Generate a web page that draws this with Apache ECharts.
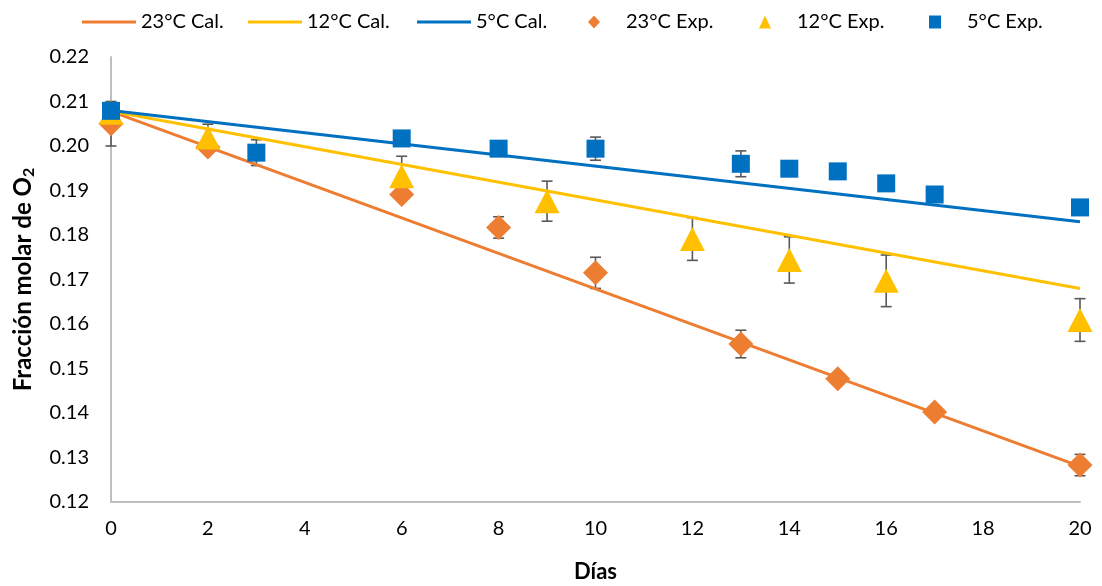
<!DOCTYPE html>
<html>
<head>
<meta charset="utf-8">
<script src="https://cdn.jsdelivr.net/npm/echarts@6/dist/echarts.min.js"></script>
<style>
  html, body { margin: 0; padding: 0; background: #fff; }
  #chart { width: 1102px; height: 586px; }
</style>
</head>
<body>
<div id="chart"></div>
<script>
// Days at which O2 was measured, per temperature
const days23 = [0, 2, 6, 8, 10, 13, 15, 17, 20];
const exp23  = [0.2050, 0.1998, 0.1891, 0.1817, 0.1715, 0.1555, 0.1477, 0.1402, 0.1283];
const err23  = [0.0050, 0, 0, 0.0024, 0.0035, 0.0031, 0, 0, 0.0024];

const days12 = [0, 2, 6, 9, 12, 14, 16, 20];
const exp12  = [0.2075, 0.2019, 0.1932, 0.1876, 0.1791, 0.1744, 0.1697, 0.1609];
const err12  = [0, 0.0030, 0.0045, 0.0045, 0.0048, 0.0052, 0.0058, 0.0048];

const days5  = [0, 3, 6, 8, 10, 13, 14, 15, 16, 17, 20];
const exp5   = [0.2079, 0.1985, 0.2017, 0.1994, 0.1994, 0.1960, 0.1949, 0.1943, 0.1916, 0.1891, 0.1862];
const err5   = [0, 0.0029, 0, 0, 0.0026, 0.0029, 0, 0, 0, 0, 0];

// Model curves (straight-line fits), start and end of the 20-day span
const calDays = [0, 20];
const cal23   = [0.2078, 0.1280];
const cal12   = [0.2078, 0.1680];
const cal5    = [0.2080, 0.1830];

const yTicks = [0.12, 0.13, 0.14, 0.15, 0.16, 0.17, 0.18, 0.19, 0.20, 0.21, 0.22];
const xTicks = [0, 2, 4, 6, 8, 10, 12, 14, 16, 18, 20];

const seriesNames = ['23°C Cal.', '12°C Cal.', '5°C Cal.', '23°C Exp.', '12°C Exp.', '5°C Exp.'];

const C23 = '#ED7D31', C12 = '#FFC000', C5 = '#0070C0';
const FONT = 'Lato, "Open Sans", sans-serif';

const pairs = (xs, ys) => xs.map((x, i) => [x, ys[i]]);
const errRows = (xs, ys, es) => xs.map((x, i) => [x, ys[i] - es[i], ys[i] + es[i]]).filter((r, i) => es[i] > 0);

function errorBars(name, rows) {
  return {
    name: name + ' err',
    type: 'custom',
    z: 1,
    silent: true,
    data: rows,
    renderItem: function (params, api) {
      const x = api.value(0);
      const lo = api.coord([x, api.value(1)]);
      const hi = api.coord([x, api.value(2)]);
      const hw = 5.5;
      const style = { stroke: '#595959', lineWidth: 1.6, fill: null };
      return {
        type: 'group',
        children: [
          { type: 'line', shape: { x1: lo[0], y1: lo[1], x2: hi[0], y2: hi[1] }, style },
          { type: 'line', shape: { x1: lo[0] - hw, y1: lo[1], x2: lo[0] + hw, y2: lo[1] }, style },
          { type: 'line', shape: { x1: hi[0] - hw, y1: hi[1], x2: hi[0] + hw, y2: hi[1] }, style }
        ]
      };
    }
  };
}

// One legend block per entry so each sits at its own spot along the top row
const legendLeft = [77, 243, 412, 583, 754, 924];
const legendIcon = ['rect', 'rect', 'rect', 'diamond', 'triangle', 'rect'];
const legends = seriesNames.map((name, i) => {
  const isLine = i < 3;
  return {
    left: legendLeft[i], top: 7,
    itemWidth: isLine ? 54 : 12,
    itemHeight: isLine ? 3 : 13,
    textStyle: { fontSize: 20, color: '#000', fontFamily: FONT, padding: [0, 0, 0, isLine ? 0 : 21] },
    data: [{ name, icon: legendIcon[i] }]
  };
});

const chart = echarts.init(document.getElementById('chart'), null, { renderer: 'canvas' });

chart.setOption({
  animation: false,
  backgroundColor: '#fff',
  textStyle: { fontFamily: FONT },
  legend: legends,
  grid: { left: 111, right: 22, top: 57, bottom: 84, containLabel: false, outerBoundsMode: 'none' },
  xAxis: {
    type: 'value',
    min: xTicks[0], max: xTicks[xTicks.length - 1], interval: 2,
    name: 'Días', nameLocation: 'middle', nameGap: 59,
    nameTextStyle: { fontSize: 22, fontWeight: 'bold', color: '#000', fontFamily: FONT },
    axisLine: { lineStyle: { color: '#BFBFBF', width: 2 } },
    axisTick: { show: false },
    splitLine: { show: false },
    axisLabel: { fontSize: 20, color: '#000', margin: 17, fontFamily: FONT }
  },
  yAxis: {
    type: 'value',
    min: yTicks[0], max: yTicks[yTicks.length - 1], interval: 0.01,
    name: 'Fracción molar de O{sub|2}', nameLocation: 'middle', nameGap: 74,
    nameTextStyle: {
      fontSize: 24, fontWeight: 'bold', color: '#000', fontFamily: FONT,
      rich: { sub: { fontSize: 16, fontWeight: 'bold', color: '#000', fontFamily: FONT, verticalAlign: 'bottom', padding: [12, 0, 0, 0] } }
    },
    axisLine: { show: true, lineStyle: { color: '#BFBFBF', width: 2 } },
    axisTick: { show: false },
    splitLine: { show: false },
    axisLabel: { fontSize: 20, color: '#000', margin: 22, fontFamily: FONT, formatter: v => v.toFixed(2) }
  },
  series: [
    { name: seriesNames[0], type: 'line', data: pairs(calDays, cal23), symbol: 'none', lineStyle: { color: C23, width: 3 }, itemStyle: { color: C23 }, z: 2 },
    { name: seriesNames[1], type: 'line', data: pairs(calDays, cal12), symbol: 'none', lineStyle: { color: C12, width: 3 }, itemStyle: { color: C12 }, z: 2 },
    { name: seriesNames[2], type: 'line', data: pairs(calDays, cal5),  symbol: 'none', lineStyle: { color: C5, width: 3 },  itemStyle: { color: C5 },  z: 2 },
    errorBars('23°C', errRows(days23, exp23, err23)),
    errorBars('12°C', errRows(days12, exp12, err12)),
    errorBars('5°C',  errRows(days5,  exp5,  err5)),
    { name: seriesNames[3], type: 'scatter', data: pairs(days23, exp23), symbol: 'diamond',  symbolSize: [25, 25], itemStyle: { color: C23, opacity: 1 }, z: 3 },
    { name: seriesNames[4], type: 'scatter', data: pairs(days12, exp12), symbol: 'triangle', symbolSize: [25, 24], itemStyle: { color: C12, opacity: 1 }, z: 4 },
    { name: seriesNames[5], type: 'scatter', data: pairs(days5,  exp5),  symbol: 'rect',     symbolSize: [18, 18], itemStyle: { color: C5, opacity: 1 },  z: 5 }
  ]
});
</script>
</body>
</html>
